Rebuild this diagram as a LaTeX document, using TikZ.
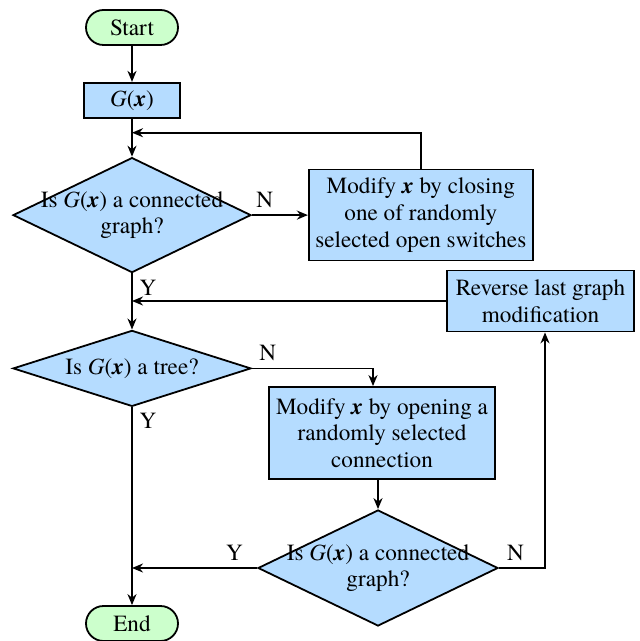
\documentclass[tikz,border=0pt]{standalone}
\usepackage{fontspec}
\setmainfont{texgyretermes}[
  Extension=.otf,
  UprightFont=*-regular,
  BoldFont=*-bold,
  ItalicFont=*-italic,
  BoldItalicFont=*-bolditalic]
\usepackage{tikz}
\usetikzlibrary{positioning,shapes.geometric,shapes.misc,arrows.meta}

\definecolor{boxblue}{RGB}{181,220,255}
\definecolor{termgreen}{RGB}{204,255,204}

\newcommand{\Gx}{\textit{G}(\textbf{\textit{x}})}
\newcommand{\bx}{\textbf{\textit{x}}}

\tikzset{
  base/.style={draw, line width=0.9pt, align=center},
  terminal/.style={base, rounded rectangle, fill=termgreen, minimum width=48pt, minimum height=17.5pt, inner sep=1pt},
  process/.style={base, rectangle, fill=boxblue, inner sep=1pt},
  decision/.style={base, diamond, fill=boxblue, inner xsep=-12pt, inner ysep=-4pt, minimum width=119pt},
  flow/.style={line width=0.9pt, -{Stealth[length=5.5pt,width=4.5pt]}}
}

\begin{document}
\begin{tikzpicture}[node distance=18pt, font=\rmfamily\fontsize{11.6}{13.35}\selectfont]
\useasboundingbox (0,0) rectangle (320pt,-320.5pt);
\node [terminal] (start) at (66pt,-13.75pt) {Start};
\node [process, minimum width=48pt, minimum height=17.5pt] (gx) [below = of start] {\Gx};
\node [decision, aspect=2.07, minimum height=57.5pt] (dec1) [below = 19pt of gx] {Is \Gx{} a connected\\graph?};
\node [process, minimum width=112pt, minimum height=45.5pt] (mod1) [right = 28pt of dec1] {Modify \bx{} by closing\\one of randomly\\selected open switches};
\node [decision, aspect=3.13, minimum height=38pt] (dec2) [below = 28pt of dec1] {Is \Gx{} a tree?};
\node [process, minimum width=113pt, minimum height=46pt] (mod2) at (191pt,-216.5pt) {Modify \bx{} by opening a\\randomly selected\\connection};
\node [decision, aspect=2.07, minimum width=120pt, minimum height=58pt] (dec3) at (189pt,-284pt) {Is \Gx{} a connected\\graph?};
\node [process, minimum width=93.5pt, minimum height=30.5pt] (rev) at (270.25pt,-150.5pt) {Reverse last graph\\modification};
\node [terminal] (end) at (66pt,-311.75pt) {End};
\coordinate [below = 7pt of gx] (loop1);

\draw [flow] (start) -- (gx);
\draw [flow] (gx) -- (dec1);
\draw [flow] (mod1.north) |- (loop1);
\draw [flow] (dec1.east) -- node [pos=0.23, above] {N} (mod1.west);
\draw [flow] (dec1.south) -- node [pos=0.25, right] {Y} (dec2.north);
\draw [flow] (rev.west) -- (rev.west -| dec1.south);
\draw [flow] (dec2.east) -| node [pos=0.065, above] {N} ([xshift=-4.5pt]mod2.north);
\draw [flow] (dec3.north |- mod2.south) -- (dec3.north);
\draw [flow] (dec3.west) -- node [pos=0.18, above] {Y} (dec3.west -| dec2.south);
\draw [flow] (dec3.east) -| node [pos=0.18, above] {N} ([xshift=2.25pt]rev.south);
\draw [flow] (dec2.south) -- node [pos=0.07, right] {Y} (end.north);
\end{tikzpicture}
\end{document}
